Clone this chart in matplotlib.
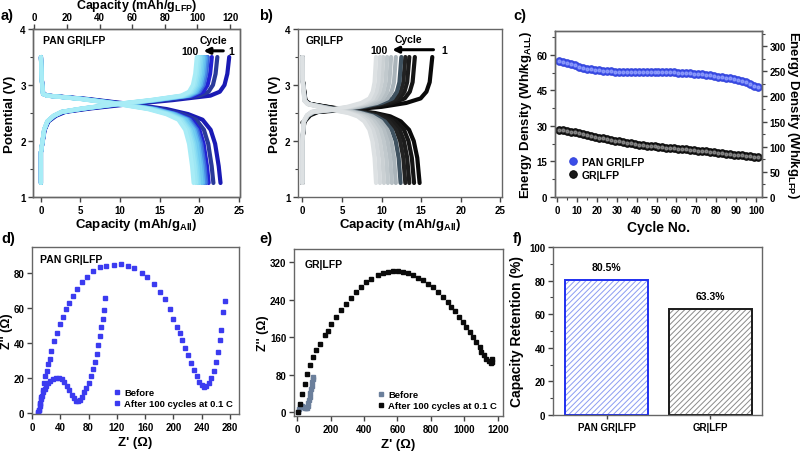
import matplotlib.pyplot as plt
import numpy as np

plt.rcParams['font.family'] = ['Liberation Sans', 'DejaVu Sans']
plt.rcParams['font.weight'] = 'bold'
plt.rcParams['axes.labelweight'] = 'bold'
plt.rcParams['mathtext.fontset'] = 'custom'
plt.rcParams['mathtext.rm'] = 'Liberation Sans:bold'
plt.rcParams['mathtext.bf'] = 'Liberation Sans:bold'
plt.rcParams['mathtext.default'] = 'rm'
plt.rcParams['hatch.linewidth'] = 0.7

# ---- a) PAN GR|LFP charge/discharge (cycles 1, 10 ... 100)
a_cycles = [1, 10, 20, 30, 40, 50, 60, 70, 80, 90, 100]
a_chg_end = [23.8, 22.3, 21.6, 21.1, 20.9, 20.7, 20.5, 20.3, 20.1, 19.9, 19.7]
a_dis_end = [22.7, 21.8, 21.2, 20.9, 20.7, 20.5, 20.3, 20.0, 19.8, 19.6, 19.3]
a_colors = ['#1a1ab4', '#2a3a9a', '#2222d2', '#3a66dd', '#4a8fe6', '#5fb6ee',
            '#6fcaf0', '#7fd7f2', '#8fe0f3', '#9de7f4', '#a8ecf6']
# voltage profile vs fraction of the cycle's capacity
a_chg_frac = [0, 0, 0.02, 0.04, 0.08, 0.13, 0.26, 0.45, 0.7, 0.9, 0.95, 0.975, 0.99, 1.0]
a_chg_volt = [1.25, 1.8, 2.2, 2.35, 2.45, 2.52, 2.58, 2.65, 2.73, 2.81, 2.88, 3.0, 3.2, 3.5]
a_dis_frac = [0, 0.005, 0.013, 0.04, 0.26, 0.5, 0.7, 0.82, 0.9, 0.945, 0.97, 0.99, 1.0]
a_dis_volt = [3.5, 3.1, 2.84, 2.81, 2.75, 2.66, 2.57, 2.48, 2.38, 2.2, 1.95, 1.55, 1.25]

# ---- b) GR|LFP
b_chg_end = [16.4, 14.2, 13.5, 13.0, 12.5, 11.8, 11.2, 10.7, 10.2, 9.8, 9.3]
b_dis_end = [14.8, 14.1, 13.5, 13.0, 12.4, 11.8, 11.3, 10.8, 10.3, 9.8, 9.3]
b_chg_v0 = [2.33, 1.25, 1.25, 1.25, 1.25, 1.25, 1.25, 1.25, 1.25, 1.25, 1.25]
b_colors = ['#0a0a0a', '#151515', '#1c1c1c', '#222222', '#3f5260', '#aab4ba',
            '#b6bfc4', '#c1c9cd', '#cbd1d4', '#d4d9dc', '#dde1e3']
b_chg_frac = [0, 0, 0.018, 0.061, 0.123, 0.37, 0.61, 0.8, 0.91, 0.955, 0.98, 1.0]
b_chg_volt = [1.25, 2.0, 2.35, 2.46, 2.52, 2.56, 2.61, 2.68, 2.76, 2.88, 3.05, 3.5]
b_dis_frac = [0, 0.003, 0.027, 0.068, 0.34, 0.62, 0.75, 0.84, 0.91, 0.95, 0.98, 1.0]
b_dis_volt = [3.5, 3.1, 2.72, 2.66, 2.57, 2.5, 2.44, 2.35, 2.2, 2.0, 1.7, 1.25]

# ---- c) energy density vs cycle
c_cycle = list(range(1, 102, 2))
c_pan = [57.5, 57.0, 56.3, 55.9, 55.5, 55.0, 54.5, 54.1, 53.8, 53.6, 53.4, 53.2, 53.1,
         53.0, 52.9, 52.8, 52.7, 52.6, 52.6, 52.6, 52.7, 52.7, 52.7, 52.8, 52.8, 52.8,
         52.8, 52.7, 52.7, 52.6, 52.4, 52.2, 52.3, 52.3, 52.0, 51.9, 51.7, 51.5, 51.3,
         51.0, 50.6, 50.5, 50.3, 50.0, 49.7, 49.2, 48.8, 48.3, 47.7, 47.0, 46.4]
c_gr = [28.2, 28.3, 27.9, 27.5, 27.2, 26.8, 26.5, 26.1, 25.7, 25.3, 25.0, 24.7, 24.4,
        24.1, 23.8, 23.5, 23.2, 22.9, 22.6, 22.3, 22.1, 21.9, 21.7, 21.5, 21.3, 21.1,
        20.9, 20.7, 20.6, 20.5, 20.4, 20.3, 20.2, 20.0, 19.8, 19.6, 19.4, 19.2, 19.0,
        18.8, 18.6, 18.4, 18.2, 18.0, 17.8, 17.6, 17.9, 17.3, 17.1, 16.9, 16.7]

# ---- d) EIS PAN GR|LFP
d_before_re = [9, 10, 11, 12, 13, 14.5, 16, 18, 20, 23, 26, 30, 34, 38, 42, 46, 50, 53,
               56, 59, 62, 65, 68, 71, 74, 77, 80, 83, 86, 89, 92, 94, 96, 98, 100, 102, 104]
d_before_im = [0.5, 2, 4, 6, 8, 10, 12, 14, 15.5, 17, 18.5, 19.5, 20, 20, 19.5, 18, 15.5,
               13, 10.5, 8.5, 7, 6.7, 7.5, 9.5, 12, 14.5, 17.5, 21, 25, 29, 34, 39, 44,
               49.5, 54, 59, 66]
d_after_re = [9, 10, 11, 13, 15, 17, 19, 21, 23, 25, 27.4, 31, 35.4, 39, 44, 48.6, 53, 58,
              64, 71, 78, 86, 96, 105, 116, 126.5, 136, 145, 155, 163, 172, 181, 188, 196,
              200, 205, 209, 213, 217, 221, 225, 229, 233, 237, 240, 243, 246, 250, 254,
              257, 260, 263, 266, 268, 270.5, 273]
d_after_im = [0, 2, 5, 9, 13, 17, 21, 24, 28, 31, 35.6, 41, 45.7, 51, 55, 59.4, 63, 67,
              71, 75, 78, 81, 83.4, 84.4, 84.8, 85, 84, 83, 80, 77.7, 73.7, 69.5, 65,
              59.4, 53.7, 49.5, 45.7, 42, 37, 33, 28.5, 24.5, 21, 18, 16.2, 15.2, 15.5,
              17, 20, 24, 29, 35, 42, 47.6, 58, 64]

# ---- e) EIS GR|LFP
e_before_re = [5, 10, 15, 22, 30, 38, 45, 52, 58, 63, 68, 72, 76, 80, 84, 87, 90, 93, 95]
e_before_im = [0, 6, 11, 14, 14, 12, 9, 8, 10, 14, 20, 26, 33, 41, 49, 57, 64, 71, 76]
e_after_re = [6, 16, 30, 46, 62, 76, 95, 115, 135, 165, 185, 205, 235, 265, 294, 324, 354,
              384, 414, 444, 484, 513, 543, 573, 603, 633, 663, 693, 722, 752, 782, 812,
              842, 871, 901, 921, 941, 965, 991, 1011, 1031, 1051, 1071, 1091, 1100, 1116,
              1130, 1144, 1156, 1163, 1167]
e_after_im = [0, 18, 39, 60, 82, 100, 117, 132, 146, 164, 174, 188, 204, 218, 231, 244, 256,
              268, 277, 284, 292, 297, 300, 302, 301, 299, 297, 292, 287, 281, 274, 267,
              256, 245, 235, 225, 215, 204, 192, 181, 171, 160, 149, 139, 128, 121, 114,
              109, 106, 108, 113]

# ---- f) capacity retention
f_names = ['PAN GR|LFP', 'GR|LFP']
f_values = [80.5, 63.3]
f_labels = ['80.5%', '63.3%']

W, H = 803, 452
fig = plt.figure(figsize=(W / 100, H / 100), dpi=100)


def box(x0, y0, x1, y1):
    return fig.add_axes([x0 / W, 1 - y1 / H, (x1 - x0) / W, (y1 - y0) / H])


def style(ax, fs=7):
    for s in ax.spines.values():
        s.set_color('#666666')
        s.set_linewidth(1.0)
    ax.tick_params(direction='out', length=3.5, width=1, labelsize=fs, pad=2,
                   colors='#444444', labelcolor='black')
    ax.tick_params(which='minor', direction='out', length=2, width=0.8, colors='#444444')


lab_fs = 9.5
txt_fs = 7.5

# ---------- a)
ax = box(33.5, 30, 239.5, 198)
for i in range(len(a_cycles)):
    ax.plot(np.array(a_chg_frac) * a_chg_end[i], a_chg_volt, color=a_colors[i], lw=3,
            solid_capstyle='round')
    ax.plot(np.array(a_dis_frac) * a_dis_end[i], a_dis_volt, color=a_colors[i], lw=3,
            solid_capstyle='round')
ax.set_xlim(-0.94, 25.1)
ax.set_ylim(1, 4)
ax.set_xticks([0, 5, 10, 15, 20, 25])
ax.set_yticks([1, 2, 3, 4])
ax.set_yticks([1.5, 2.5, 3.5], minor=True)
style(ax)
ax.set_xlabel(r'Capacity (mAh/g$_{All}$)', fontsize=lab_fs, labelpad=1)
ax.set_ylabel('Potential (V)', fontsize=lab_fs, labelpad=3)
ax.text(0.2, 3.8, 'PAN GR|LFP', fontsize=txt_fs, va='center')
ax.text(21.8, 3.8, 'Cycle', fontsize=txt_fs, ha='center', va='center')
ax.text(18.8, 3.61, '100', fontsize=txt_fs, ha='center', va='center')
ax.text(24.0, 3.61, '1', fontsize=txt_fs, ha='center', va='center')
ax.annotate('', xy=(20.2, 3.61), xytext=(23.4, 3.61),
            arrowprops=dict(arrowstyle='-|>', color='black', lw=2.2, mutation_scale=9))
top = ax.twiny()
top.set_xlim(-0.6, 125.8)
top.set_xticks([0, 20, 40, 60, 80, 100, 120])
style(top)
top.tick_params(axis='x', pad=1.5)
fig.text((33.5 + 239.5) / 2 / W, 1 - 6.5 / H, r'Capacity (mAh/g$_{LFP}$)',
         fontsize=lab_fs - 0.5, ha='center', va='center')

# ---------- b)
ax = box(298, 30, 502, 198)
for i in range(len(b_chg_end)):
    ax.plot(np.array(b_chg_frac) * b_chg_end[i], np.maximum(b_chg_volt, b_chg_v0[i]),
            color=b_colors[i], lw=3, solid_capstyle='round')
    ax.plot(np.array(b_dis_frac) * b_dis_end[i], b_dis_volt, color=b_colors[i], lw=3,
            solid_capstyle='round')
ax.set_xlim(-0.55, 25.2)
ax.set_ylim(1, 4)
ax.set_xticks([0, 5, 10, 15, 20, 25])
ax.set_yticks([1, 2, 3, 4])
ax.set_yticks([1.5, 2.5, 3.5], minor=True)
style(ax)
ax.set_xlabel(r'Capacity (mAh/g$_{All}$)', fontsize=lab_fs, labelpad=1)
ax.set_ylabel('Potential (V)', fontsize=lab_fs, labelpad=3)
ax.text(0.4, 3.8, 'GR|LFP', fontsize=txt_fs, va='center')
ax.text(13.4, 3.82, 'Cycle', fontsize=txt_fs, ha='center', va='center')
ax.text(9.7, 3.63, '100', fontsize=txt_fs, ha='center', va='center')
ax.text(17.9, 3.63, '1', fontsize=txt_fs, ha='center', va='center')
ax.annotate('', xy=(11.0, 3.63), xytext=(16.9, 3.63),
            arrowprops=dict(arrowstyle='-|>', color='black', lw=2.2, mutation_scale=9))

# ---------- c)
ax = box(555, 32, 762, 198)
ax.plot(c_cycle, c_pan, 'o', ms=5.5, color='#3a4de8', mec='#3040d8', mew=0.6,
        label='PAN GR|LFP')
ax.plot(c_cycle, c_pan, 'o', ms=2, color='#9aa8ff', alpha=0.7)
ax.plot(c_cycle, c_gr, 'o', ms=5.5, color='#1a1a1a', mec='#000000', mew=0.6,
        label='GR|LFP')
ax.plot(c_cycle, c_gr, 'o', ms=2, color='#9a9a9a', alpha=0.7)
ax.set_xlim(-1, 103)
ax.set_ylim(0, 70)
ax.set_xticks(range(0, 101, 10))
ax.set_xticks(range(5, 101, 10), minor=True)
ax.set_yticks([0, 15, 30, 45, 60])
ax.set_yticks([7.5, 22.5, 37.5, 52.5, 67.5], minor=True)
style(ax)
ax.set_xlabel('Cycle No.', fontsize=lab_fs + 0.5, labelpad=4)
ax.set_ylabel(r'Energy Density (Wh/kg$_{ALL}$)', fontsize=lab_fs, labelpad=2)
ax.legend(loc='lower left', frameon=False, fontsize=txt_fs, handletextpad=0.3,
          handlelength=1.2, borderaxespad=0.3, labelspacing=0.3,
          bbox_to_anchor=(0.02, 0.06))
rax = ax.twinx()
rax.set_ylim(0, 330)
rax.set_yticks([0, 50, 100, 150, 200, 250, 300])
rax.set_yticks([25, 75, 125, 175, 225, 275, 325], minor=True)
style(rax)
rax.set_ylabel(r'Energy Density (Wh/kg$_{LFP}$)', fontsize=lab_fs, rotation=270,
               labelpad=11)

# ---------- d)
ax = box(32, 248, 239, 415)
ax.plot(d_before_re, d_before_im, 's', ms=3.3, color='#3b3bf0', label='Before')
ax.plot(d_after_re, d_after_im, 's', ms=3.3, color='#3b3bf0',
        label='After 100 cycles at 0.1 C')
ax.set_xlim(0, 293)
ax.set_ylim(-0.5, 95)
ax.set_xticks(range(0, 281, 40))
ax.set_yticks(range(0, 81, 20))
style(ax)
ax.set_xlabel(u"Z' (\u03a9)", fontsize=lab_fs, labelpad=3)
ax.set_ylabel(u"Z'' (\u03a9)", fontsize=lab_fs - 0.5, labelpad=0.5)
ax.text(0.04, 0.93, 'PAN GR|LFP', transform=ax.transAxes, fontsize=txt_fs, va='center')
ax.legend(loc='lower right', frameon=False, fontsize=6.8, handletextpad=0.2,
          handlelength=1.2, borderaxespad=0.2, labelspacing=0.25)

# ---------- e)
ax = box(294, 250, 503, 417)
ax.plot(e_before_re, e_before_im, 's', ms=3.3, color='#6b7f9b', label='Before')
ax.plot(e_after_re, e_after_im, 's', ms=3.3, color='#0a0a0a',
        label='After 100 cycles at 0.1 C')
ax.set_xlim(-18, 1230)
ax.set_ylim(-8, 348)
ax.set_xticks(range(0, 1201, 200))
ax.set_yticks(range(0, 321, 80))
style(ax)
ax.set_xlabel(u"Z' (\u03a9)", fontsize=lab_fs, labelpad=3)
ax.set_ylabel(u"Z'' (\u03a9)", fontsize=lab_fs - 0.5, labelpad=1)
ax.text(0.05, 0.91, 'GR|LFP', transform=ax.transAxes, fontsize=txt_fs, va='center')
ax.legend(loc='lower right', frameon=False, fontsize=6.8, handletextpad=0.2,
          handlelength=1.2, borderaxespad=0.2, labelspacing=0.25)

# ---------- f)
ax = box(553, 248, 762, 416)
xs = np.arange(len(f_names))
ax.bar(xs, f_values, width=0.8, color='white', edgecolor=['#8c9cf2', '#8a8a8a'],
       hatch='//////', lw=0)
ax.bar(xs, f_values, width=0.8, fill=False, edgecolor=['#1f2ff0', '#1a1a1a'], lw=1.4)
for x, v, t in zip(xs, f_values, f_labels):
    ax.text(x, v + 4.5, t, ha='center', va='bottom', fontsize=txt_fs)
ax.set_xlim(-0.52, 1.5)
ax.set_ylim(0, 100)
ax.set_xticks(xs)
ax.set_xticklabels(f_names, fontsize=8.5)
ax.set_yticks(range(0, 101, 20))
ax.set_yticks(range(10, 100, 20), minor=True)
style(ax)
ax.tick_params(axis='x', which='both', length=3)
ax.set_ylabel('Capacity Retention (%)', fontsize=lab_fs + 0.5, labelpad=4)

# panel letters
for lx, ly, t in [(1, 16, 'a)'), (259, 16, 'b)'), (513, 16, 'c)'),
                  (1, 239, 'd)'), (259, 239, 'e)'), (513, 239, 'f)')]:
    fig.text(lx / W, 1 - ly / H, t, fontsize=10.5, va='center', ha='left')

fig.savefig('out.png', dpi=100)
